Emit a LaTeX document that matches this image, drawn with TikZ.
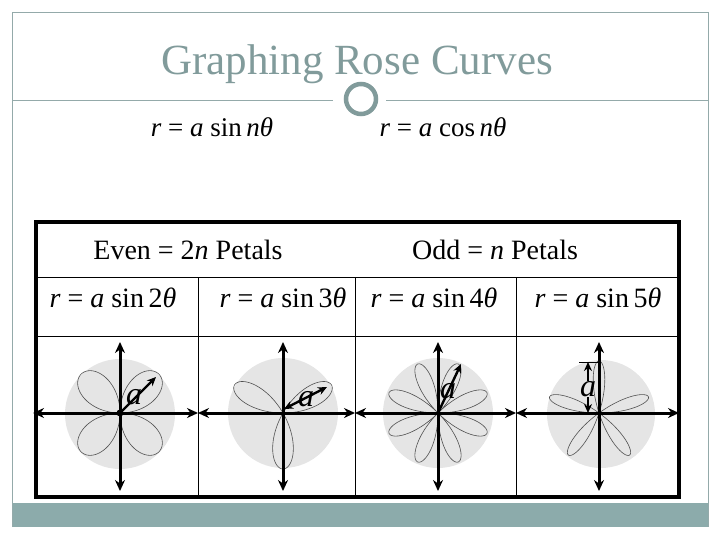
\documentclass[tikz,border=0pt]{standalone}
\usepackage{fontspec}
\setmainfont{Liberation Serif}
\usetikzlibrary{arrows.meta}
\definecolor{RCTeal}{HTML}{8CABAB}
\definecolor{RCFrame}{HTML}{94AAAA}
\definecolor{RCTitle}{HTML}{819B9B}
\definecolor{RCDisk}{HTML}{E5E5E5}
\definecolor{RCPetal}{HTML}{505050}
\newcommand{\rsz}[1]{\fontsize{#1}{#1}\selectfont}
\newcommand{\rosesin}[1]{\textit{r} = \textit{a} sin\,#1\textit{θ}}

\begin{document}
\begin{tikzpicture}[x=1pt,y=-1pt,
  axis/.style={line width=3pt,{Stealth[length=11pt,width=10pt]}-{Stealth[length=11pt,width=10pt]}},
  petal/.style={RCPetal,line width=0.6pt},
  disk/.style={fill=RCDisk},
  alabel/.style={font=\rsz{32}\itshape,inner sep=0.5pt},
  ptr/.style={line width=2.4pt,-{Stealth[length=9pt,width=8pt]}}]
\path[use as bounding box] (0,0) rectangle (720,540);
% slide frame
\fill[RCTeal] (12,503) rectangle (708,527);
\draw[RCFrame,line width=0.8pt] (12,527) -- (12,12) -- (708,12) -- (708,527);
\draw[RCFrame,line width=0.8pt] (12,100) -- (333,100);
\draw[RCFrame,line width=0.8pt] (386,100) -- (708,100);
\draw[RCTitle,line width=4.5pt] (361,99) circle (15);
\node[font=\rsz{43},text=RCTitle] (title) at (357,64) {Graphing Rose Curves};
\node[font=\rsz{27}] (sinform) at (212,127) {\rosesin{\textit{n}}};
\node[font=\rsz{27}] (cosform) at (443,127) {\textit{r} = \textit{a} cos\,\textit{nθ}};
% table
\draw[line width=1pt] (36,277) -- (679,277);
\draw[line width=1pt] (36,336) -- (679,336);
\draw[line width=1pt] (198,277) -- (198,497);
\draw[line width=1pt] (355,277) -- (355,497);
\draw[line width=1pt] (516,277) -- (516,497);
\draw[line width=3.5pt] (36,222) rectangle (679,497);
\node[font=\rsz{28}] (evenhd) at (188,250) {Even = 2\textit{n} Petals};
\node[font=\rsz{28}] (oddhd) at (495,250) {Odd = \textit{n} Petals};
\node[font=\rsz{28}] (sintwo) at (113,298) {\rosesin{2}};
\node[font=\rsz{28}] (sinthree) at (283,298) {\rosesin{3}};
\node[font=\rsz{28}] (sinfour) at (434,298) {\rosesin{4}};
\node[font=\rsz{28}] (sinfive) at (598,298) {\rosesin{5}};
% disks
\fill[disk] (120,414) circle (55);
\fill[disk] (283,413) circle (55);
\fill[disk] (438,413) circle (55);
\fill[disk] (601,414) circle (54);
% roses
\begin{scope}[shift={(120,413)},yscale=-1]
\draw[petal] plot[domain=0:360,samples=241,smooth] ({55*sin(2*\x)*cos(\x)},{55*sin(2*\x)*sin(\x)});
\end{scope}
\begin{scope}[shift={(283,413)},yscale=-1]
\draw[petal] plot[domain=0:180,samples=181,smooth] ({56*sin(3*\x)*cos(\x)},{56*sin(3*\x)*sin(\x)});
\end{scope}
\begin{scope}[shift={(438,413)},yscale=-1]
\draw[petal] plot[domain=0:360,samples=361,smooth] ({53*sin(4*\x)*cos(\x)},{53*sin(4*\x)*sin(\x)});
\end{scope}
\begin{scope}[shift={(599,413)},yscale=-1]
\draw[petal] plot[domain=0:180,samples=241,smooth] ({52*sin(5*\x)*cos(\x)},{52*sin(5*\x)*sin(\x)});
\end{scope}
% axes
\draw[axis] (33,413) -- (198,413);
\draw[axis] (198,413) -- (355,413);
\draw[axis] (355,413) -- (516,413);
\draw[axis] (516,413) -- (679,413);
\draw[axis] (120,342) -- (120,491);
\draw[axis] (283,342) -- (283,491);
\draw[axis] (438,342) -- (438,491);
\draw[axis] (599,342) -- (599,491);
% radius a
\coordinate (origa) at (120,413);
\coordinate (tipa) at (156,377);
\fill (origa) circle (3.5);
\draw[ptr] (origa) -- (tipa);
\node[alabel] (lbla) at (134,397) {a};
\coordinate (tailb) at (284,409);
\coordinate (tipb) at (327,387);
\draw[ptr,{Stealth[length=9pt,width=8pt]}-{Stealth[length=9pt,width=8pt]}] (tailb) -- (tipb);
\node[alabel] (lblb) at (306,399) {a};
\coordinate (origc) at (438,413);
\coordinate (tipc) at (461,364);
\draw[ptr] (origc) -- (tipc);
\node[alabel] (lblc) at (448,391) {a};
\coordinate (topd) at (588,362);
\coordinate (botd) at (588,413);
\draw[line width=1pt] (579,362) -- (600,362);
\node[alabel] (lbld) at (588,389) {a};
\draw[ptr] (lbld.north) -- (topd);
\draw[ptr] (lbld.south) -- (botd);
\end{tikzpicture}
\end{document}
